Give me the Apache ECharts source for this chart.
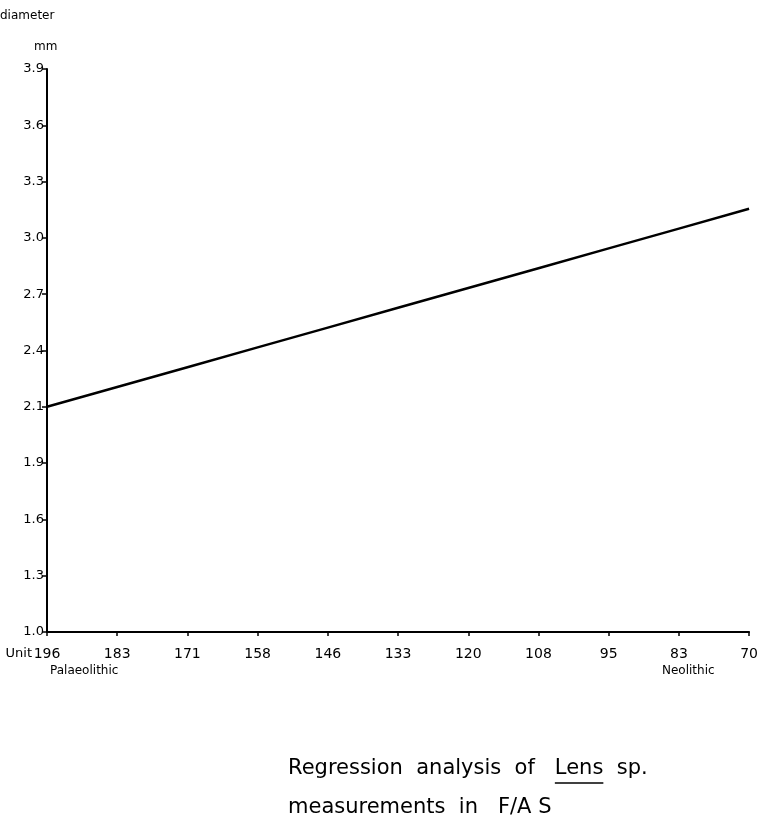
<!DOCTYPE html>
<html>
<head>
<meta charset="utf-8">
<script src="https://cdn.jsdelivr.net/npm/echarts@6/dist/echarts.min.js"></script>
<style>
html,body{margin:0;padding:0;background:#fff;}
#chart{width:761px;height:821px;}
</style>
</head>
<body>
<div id="chart"></div>
<script>
// Categories (unit numbers, oldest -> youngest)
var unitCategories = ['196','183','171','158','146','133','120','108','95','83','70'];
// Regression line values (diameter, mm)
var diameterValues = [2.160, 2.262, 2.364, 2.466, 2.568, 2.670, 2.772, 2.874, 2.976, 3.078, 3.180];
// Y tick positions (mm) and their printed labels
var yTickValues = [1.0, 1.29, 1.58, 1.87, 2.16, 2.45, 2.74, 3.03, 3.32, 3.61, 3.9];
var yTickLabels = ['1.0','1.3','1.6','1.9','2.1','2.4','2.7','3.0','3.3','3.6','3.9'];

var FONT = '"DejaVu Sans", sans-serif';
var TFONT = '21px "DejaVu Sans", sans-serif';
var TITLE_PRE = 'Regression  analysis  of   ';
var TITLE_UL = 'Lens';
var TITLE_POST = '  sp.';
var TITLE_2 = 'measurements  in   F/A S';

var chart = echarts.init(document.getElementById('chart'));

// measure text so the underline sits beneath "Lens"
var mctx = document.createElement('canvas').getContext('2d');
mctx.font = TFONT;
var ulX1 = 288 + mctx.measureText(TITLE_PRE).width;
var ulX2 = ulX1 + mctx.measureText(TITLE_UL).width;

function yLabel(v){
  var best = 0, bd = Infinity;
  for (var i = 0; i < yTickValues.length; i++) {
    var d = Math.abs(yTickValues[i] - v);
    if (d < bd) { bd = d; best = i; }
  }
  return yTickLabels[best];
}

chart.setOption({
  animation: false,
  backgroundColor: '#ffffff',
  grid: { left: 47, right: 9, top: 69, bottom: 189, containLabel: false },
  xAxis: {
    type: 'category',
    data: unitCategories,
    boundaryGap: false,
    axisLine: { lineStyle: { color: '#000', width: 2 } },
    axisTick: { show: true, length: 4, inside: false, lineStyle: { color: '#000', width: 1.5 } },
    axisLabel: { color: '#000', fontFamily: FONT, fontSize: 14, margin: 15, interval: 0 },
    splitLine: { show: false }
  },
  yAxis: {
    type: 'value',
    min: 1.0,
    max: 3.9,
    axisLine: { show: true, lineStyle: { color: '#000', width: 2 } },
    axisTick: { show: true, length: 5, customValues: yTickValues, lineStyle: { color: '#000', width: 1.5 } },
    axisLabel: { customValues: yTickValues, color: '#000', fontFamily: FONT, fontSize: 13, margin: 3, formatter: yLabel },
    splitLine: { show: false }
  },
  series: [{
    type: 'line',
    data: diameterValues,
    showSymbol: false,
    symbol: 'none',
    lineStyle: { color: '#000', width: 2.5 }
  }],
  graphic: [
    { type: 'text', left: 0, top: 10, style: { text: 'diameter', fill: '#000', font: '12px ' + FONT } },
    { type: 'text', left: 34, top: 41, style: { text: 'mm', fill: '#000', font: '12px ' + FONT } },
    { type: 'text', right: 729, top: 647, style: { text: 'Unit', fill: '#000', font: '13px ' + FONT } },
    { type: 'text', left: 50, top: 665, style: { text: 'Palaeolithic', fill: '#000', font: '12px ' + FONT } },
    { type: 'text', left: 662, top: 665, style: { text: 'Neolithic', fill: '#000', font: '12px ' + FONT } },
    { type: 'text', left: 288, top: 758, style: { text: TITLE_PRE + TITLE_UL + TITLE_POST, fill: '#000', font: TFONT } },
    { type: 'line', shape: { x1: ulX1, y1: 783, x2: ulX2, y2: 783 }, style: { stroke: '#000', lineWidth: 1.5 } },
    { type: 'text', left: 288, top: 797, style: { text: TITLE_2, fill: '#000', font: TFONT } }
  ]
});
</script>
</body>
</html>
